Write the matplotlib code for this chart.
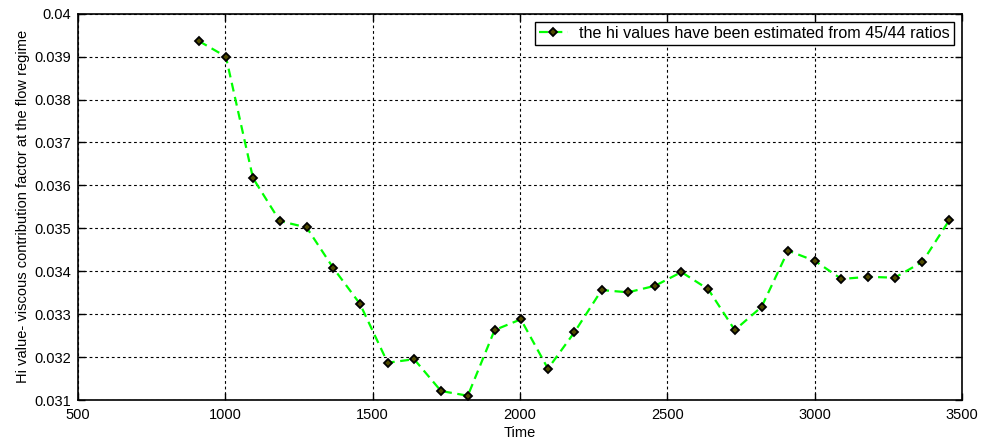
import matplotlib
matplotlib.use("Agg")
import matplotlib.pyplot as plt

# hi values (time, hi)
time_values = [911, 1002, 1094, 1185, 1276, 1366, 1457, 1551, 1641, 1732,
               1823, 1914, 2003, 2095, 2185, 2277, 2367, 2458, 2548, 2639,
               2729, 2820, 2910, 3001, 3091, 3182, 3272, 3366, 3457]
hi_values = [0.03936, 0.03900, 0.03617, 0.03517, 0.03502, 0.03408, 0.03324,
             0.03187, 0.03195, 0.03121, 0.03110, 0.03263, 0.03288, 0.03173,
             0.03258, 0.03356, 0.03351, 0.03366, 0.03398, 0.03358, 0.03263,
             0.03317, 0.03448, 0.03424, 0.03382, 0.03387, 0.03385, 0.03422,
             0.03519]
x_ticks = [500, 1000, 1500, 2000, 2500, 3000, 3500]
y_ticks = [0.031, 0.032, 0.033, 0.034, 0.035, 0.036, 0.037, 0.038, 0.039, 0.04]
y_tick_labels = ["0.031", "0.032", "0.033", "0.034", "0.035", "0.036",
                 "0.037", "0.038", "0.039", "0.04"]
legend_text = "the hi values have been estimated from 45/44 ratios"

plt.rcParams['font.family'] = ['Liberation Sans', 'DejaVu Sans']
plt.rcParams['font.size'] = 10.5

fig = plt.figure(figsize=(9.83, 4.46), dpi=100, facecolor='w')
ax = fig.add_axes([0.0793, 0.1031, 0.8993, 0.8662])

ax.plot(time_values, hi_values, color='#00ff00', linestyle='--', linewidth=1.6,
        marker='D', markersize=4, markeredgecolor='k', markerfacecolor='#504a00',
        markeredgewidth=1.3, dashes=(4, 2.5), label=legend_text)

ax.set_xlim(500, 3500)
ax.set_ylim(0.031, 0.04)
ax.set_xticks(x_ticks)
ax.set_yticks(y_ticks)
ax.set_yticklabels(y_tick_labels)
ax.tick_params(direction='in', top=True, right=True, length=5, width=1)
ax.tick_params(axis='x', pad=6)
ax.tick_params(axis='y', pad=5)
ax.grid(True, color='k', linestyle=(0, (2.5, 2.5)), linewidth=0.8)
for s in ax.spines.values():
    s.set_linewidth(1.2)

ax.set_xlabel("Time", labelpad=2.5)
ax.set_ylabel("Hi value- viscous contribution factor at the flow regime", labelpad=3)

leg = ax.legend(loc='upper right', fancybox=False, framealpha=1, edgecolor='k',
                borderaxespad=0.5, handlelength=1.8, handletextpad=0.7,
                borderpad=0.25, fontsize=11.6)
leg.get_frame().set_linewidth(1.0)

plt.savefig("out.png", dpi=100)
